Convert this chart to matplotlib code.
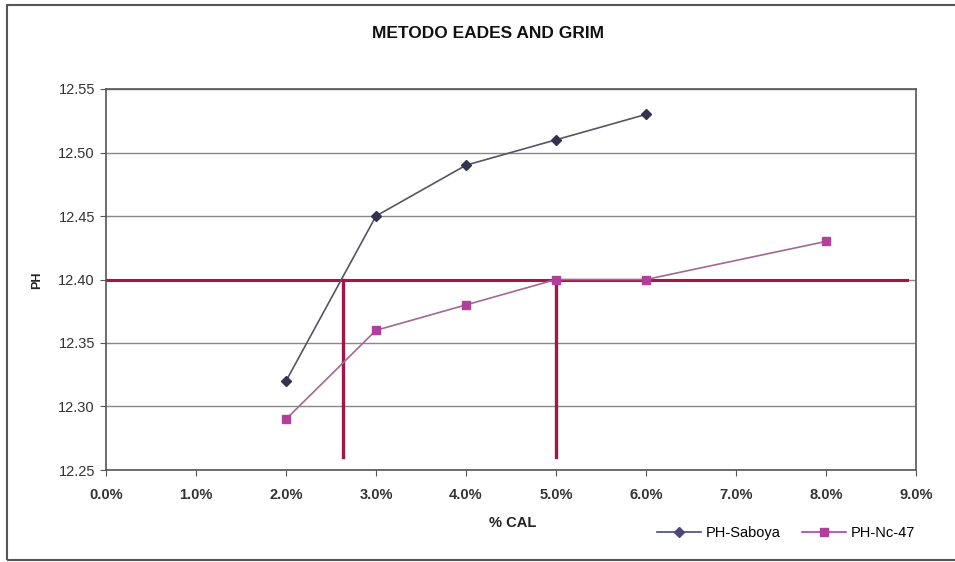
import matplotlib
matplotlib.use("Agg")
import matplotlib.pyplot as plt
from matplotlib.patches import Rectangle
from matplotlib.lines import Line2D

plt.rcParams['font.family'] = ['Liberation Sans', 'DejaVu Sans']

# Data (% CAL as percent values)
cal_saboya = [2.0, 3.0, 4.0, 5.0, 6.0]
ph_saboya = [12.32, 12.45, 12.49, 12.51, 12.53]
cal_nc47 = [2.0, 3.0, 4.0, 5.0, 6.0, 8.0]
ph_nc47 = [12.29, 12.36, 12.38, 12.40, 12.40, 12.43]

ref_ph = 12.40
ref_cal = [2.63, 5.0]
ref_bottom = 12.26
ref_right = 8.9

xticks = [0, 1, 2, 3, 4, 5, 6, 7, 8, 9]
yticks = [12.25, 12.30, 12.35, 12.40, 12.45, 12.50, 12.55]

fig = plt.figure(figsize=(9.55, 5.62), dpi=100)
fig.patch.set_facecolor('white')
# outer chart border
fig.add_artist(Rectangle((7/955, 2/562), 1.0, (562-7)/562, transform=fig.transFigure,
                         fill=False, edgecolor='#555555', linewidth=1.5))

ax = fig.add_axes([106/955, 92/562, (916-106)/955, (470-89)/562])
ax.set_xlim(0, 9)
ax.set_ylim(12.25, 12.55)

ax.set_yticks(yticks)
ax.set_yticklabels([f"{v:.2f}" for v in yticks], fontsize=10.5, color='#333333')
ax.set_xticks(xticks)
ax.set_xticklabels([f"{v:.1f}%" for v in xticks], fontsize=10.5, color='#333333', fontweight='bold')
ax.tick_params(axis='x', direction='out', length=4, color='#555555', pad=9)
ax.tick_params(axis='y', direction='out', length=4, color='#555555', pad=4)

ax.yaxis.grid(True, color='#888888', linewidth=1)
ax.set_axisbelow(True)
for side in ['left', 'bottom', 'right', 'top']:
    ax.spines[side].set_color('#555555')
    ax.spines[side].set_linewidth(1.2)

# reference lines
red = '#a01848'
ax.plot([0, ref_right], [ref_ph, ref_ph], color=red, linewidth=2.2, zorder=2)
for c in ref_cal:
    ax.plot([c, c], [ref_bottom, ref_ph], color=red, linewidth=2.4, zorder=2)

ax.plot(cal_saboya, ph_saboya, color='#555566', linewidth=1.2, marker='D',
        markersize=5, markerfacecolor='#33334d', markeredgecolor='#33334d',
        label='PH-Saboya', zorder=3)
ax.plot(cal_nc47, ph_nc47, color='#a06a90', linewidth=1.2, marker='s',
        markersize=5.5, markerfacecolor='#b0409a', markeredgecolor='#b0409a',
        label='PH-Nc-47', zorder=3)

fig.text(488/955, 1 - 33/562, 'METODO EADES AND GRIM', ha='center', va='center',
         fontsize=12.5, fontweight='bold', color='#111111')
fig.text(513/955, 1 - 523/562, '% CAL', ha='center', va='center',
         fontsize=10.5, fontweight='bold', color='#222222')
fig.text(37/955, 1 - 280/562, 'PH', ha='center', va='center', rotation=90,
         fontsize=9, fontweight='bold', color='#222222')

# legend handles colored like the reference
h1 = Line2D([], [], color='#4a4a7a', marker='D', markersize=5, markerfacecolor='#4a4a7a', linewidth=1.2)
h2 = Line2D([], [], color='#b0409a', marker='s', markersize=5.5, markerfacecolor='#b0409a', linewidth=1.2)
fig.legend([h1, h2], ['PH-Saboya', 'PH-Nc-47'], loc='center', bbox_to_anchor=(786/955, 1 - 533/562),
           ncol=2, frameon=False, fontsize=10.5, handlelength=3, columnspacing=1.5, handletextpad=0.3)

fig.savefig('out.png', dpi=100, facecolor='white')
